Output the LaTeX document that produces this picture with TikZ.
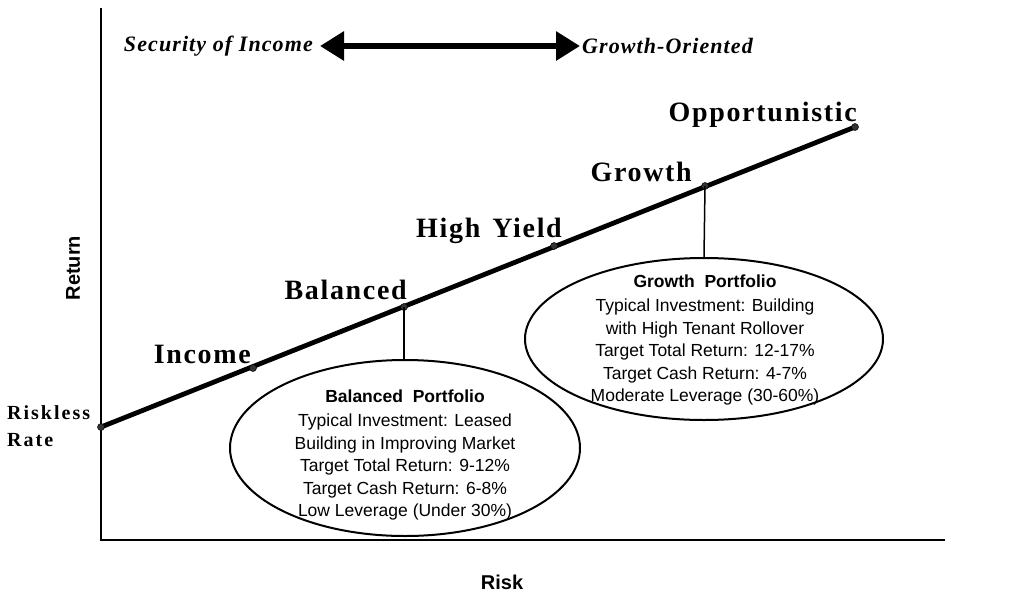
\documentclass[tikz,border=0pt]{standalone}
\usepackage{fontspec}
\setmainfont{Liberation Serif}
\setsansfont{Liberation Sans}
\newfontfamily\lblfont[LetterSpace=6]{Liberation Serif}
\newfontfamily\smlfont[LetterSpace=10]{Liberation Serif}
\newfontfamily\topfont[LetterSpace=5]{Liberation Serif}
\usetikzlibrary{arrows.meta,shapes.geometric}
\begin{document}
\begin{tikzpicture}[x=1pt,y=-1pt,
  dot/.style={circle,fill=black!80,draw=black,line width=0.5pt,inner sep=0pt,minimum size=7pt},
  lbl/.style={font=\lblfont\bfseries\fontsize{28}{32}\selectfont,anchor=base east,inner sep=0pt},
  small/.style={font=\smlfont\bfseries\fontsize{20}{24}\selectfont,anchor=base west,inner sep=0pt},
  toptxt/.style={font=\topfont\bfseries\itshape\fontsize{22}{26}\selectfont,inner sep=0pt},
  axistitle/.style={font=\sffamily\bfseries\fontsize{20}{24}\selectfont,inner sep=0pt},
  axisline/.style={line width=2pt},
  oval/.style={ellipse,draw,line width=2pt,inner sep=0pt},
  ovaltext/.style={font=\sffamily\fontsize{17.5}{22.5}\selectfont,align=center,inner sep=0pt},
  conn/.style={line width=1.5pt},
  bigarrow/.style={line width=6pt,{Triangle[length=24pt,width=28pt]}-{Triangle[length=24pt,width=28pt]}}]
\useasboundingbox (0,0) rectangle (1009,600);
% axes
\coordinate (ytop) at (101,8);
\coordinate (orig) at (101,540);
\coordinate (xend) at (945,540);
\draw[axisline] (ytop) -- (orig) -- (xend);
\node[axistitle,rotate=90] (ret) at (73,268) {Return};
\node[axistitle] (risk) at (502,582) {Risk};
% top arrow
\node[toptxt,anchor=east] (sec) at (313,46) {Security of Income};
\node[toptxt,anchor=west] (gor) at (582,46) {Growth-Oriented};
\draw[bigarrow] ([xshift=7pt]sec.east) -- ([xshift=-2pt]gor.west);
% points
\coordinate (p0) at (101,427);
\coordinate (p1) at (253,368);
\coordinate (p2) at (404,307);
\coordinate (p3) at (554,246);
\coordinate (p4) at (705,186);
\coordinate (p5) at (855,127);
\draw[line width=4.8pt] (p0) -- (p5);
\foreach \p in {p0,p1,p2,p3,p4,p5} \node[dot] (d\p) at (\p) {};
% labels
\node[small] (rl1) at (7,419) {Riskless};
\node[small] (rl2) at (7,446) {Rate};
\node[lbl] (linc) at (251,363) {Income};
\node[lbl] (lbal) at (407,299) {Balanced};
\node[lbl] (lhy) at (562,237) {High\hspace{12pt}Yield};
\node[lbl] (lgro) at (692,181) {Growth};
\node[lbl] (lopp) at (857,121) {Opportunistic};
% ellipses
\node[oval,minimum width=350pt,minimum height=176pt] (bal) at (405,448) {};
\node[ovaltext] (baltxt) at (405,455) {\textbf{Balanced\ \ Portfolio}\\[1.5pt]
Typical Investment: Leased\\ Building in Improving Market\\ Target Total Return: 9-12\%\\ Target Cash Return: 6-8\%\\ Low Leverage (Under 30\%)};
\node[oval,minimum width=358pt,minimum height=162pt] (gro) at (704,339) {};
\node[ovaltext] (grotxt) at (705,340) {\textbf{Growth\ \ Portfolio}\\[1.5pt]
Typical Investment: Building\\ with High Tenant Rollover\\ Target Total Return: 12-17\%\\ Target Cash Return: 4-7\%\\ Moderate Leverage (30-60\%)};
\draw[conn] (dp2.center) -- (dp2.center |- bal.north);
\draw[conn] (dp4.center) -- (gro.north);
\end{tikzpicture}
\end{document}
